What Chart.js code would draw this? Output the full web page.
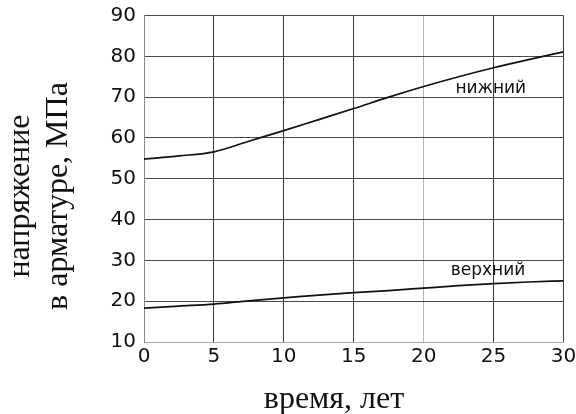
<!DOCTYPE html>
<html>
<head>
<meta charset="utf-8">
<script src="https://cdn.jsdelivr.net/npm/chart.js@4"></script>
<style>
  html, body { margin: 0; padding: 0; background: #fff; }
  #wrap { width: 576px; height: 414px; position: relative; }
</style>
</head>
<body>
<div id="wrap"><canvas id="stress-chart"></canvas></div>
<script>
// years and stress values
var years = [0, 2.5, 5, 7.5, 10, 12.5, 15, 17.5, 20, 22.5, 25, 27.5, 30];
var lowerBar = [54.8, 55.6, 56.6, 59.2, 61.8, 64.5, 67.2, 70.0, 72.6, 75.0, 77.2, 79.2, 81.1];
var upperBar = [18.3, 18.8, 19.3, 20.1, 20.8, 21.5, 22.1, 22.6, 23.2, 23.8, 24.3, 24.7, 25.0];
var xTicks = [0, 5, 10, 15, 20, 25, 30];
var yTicks = [10, 20, 30, 40, 50, 60, 70, 80, 90];
var seriesNames = ['нижний', 'верхний'];
var labelPos = [[24.8, 72.2], [24.6, 27.6]];
var xTitle = 'время, лет';
var yTitle = ['напряжение', 'в арматуре, МПа'];

function toPoints(xs, ys) {
	return xs.map(function (x, i) { return { x: x, y: ys[i] }; });
}

var textPlugin = {
	id: 'textPlugin',
	afterDraw: function (chart) {
		var ctx = chart.ctx;
		var xs = chart.scales.x, ys = chart.scales.y;
		ctx.save();
		ctx.fillStyle = '#111';
		// series names inside the plot
		ctx.font = '17px "DejaVu Sans"';
		ctx.textAlign = 'center';
		ctx.textBaseline = 'middle';
		labelPos.forEach(function (p, i) {
			ctx.fillText(seriesNames[i], xs.getPixelForValue(p[0]), ys.getPixelForValue(p[1]));
		});
		// axis titles
		ctx.font = '32px "Liberation Serif"';
		ctx.textBaseline = 'alphabetic';
		ctx.fillText(xTitle, 334, 408);
		ctx.translate(0, 196);
		ctx.rotate(-Math.PI / 2);
		ctx.fillText(yTitle[0], 0, 29);
		ctx.fillText(yTitle[1], 0, 67);
		ctx.restore();
	}
};

var ctx = document.getElementById('stress-chart').getContext('2d');
var myChart = new Chart(ctx, {
	type: 'line',
	data: {
		datasets: [
			{
				label: seriesNames[0],
				data: toPoints(years, lowerBar),
				borderColor: '#111',
				borderWidth: 1.7,
				pointRadius: 0,
				cubicInterpolationMode: 'monotone',
				fill: false
			},
			{
				label: seriesNames[1],
				data: toPoints(years, upperBar),
				borderColor: '#111',
				borderWidth: 1.7,
				pointRadius: 0,
				cubicInterpolationMode: 'monotone',
				fill: false
			}
		]
	},
	options: {
		responsive: true,
		maintainAspectRatio: false,
		animation: false,
		layout: {
			autoPadding: false,
			padding: { top: 15.5, right: 12.5, left: 0, bottom: 0 }
		},
		plugins: {
			legend: { display: false },
			tooltip: { enabled: false }
		},
		scales: {
			x: {
				type: 'linear',
				min: 0,
				max: 30,
				afterBuildTicks: function (scale) {
					scale.ticks = xTicks.map(function (v) { return { value: v }; });
				},
				afterFit: function (scale) {
					scale.height = 72;
					// let the "30" label run off the edge, as in the original
					scale.paddingLeft = 0;
					scale.paddingRight = 0;
				},
				ticks: {
					color: '#111',
					font: { family: 'DejaVu Sans', size: 20 },
					padding: 3,
					maxRotation: 0
				},
				grid: {
					drawTicks: false,
					color: function (c) { return c.tick && c.tick.value === 20 ? '#b4b4b4' : '#3a3a3a'; },
					lineWidth: 1
				},
				border: { color: '#a8a8a8', width: 1 }
			},
			y: {
				min: 10,
				max: 90,
				afterBuildTicks: function (scale) {
					scale.ticks = yTicks.map(function (v) { return { value: v }; });
				},
				afterFit: function (scale) {
					scale.width = 144;
					scale.paddingTop = 0;
					scale.paddingBottom = 0;
				},
				ticks: {
					color: '#111',
					font: { family: 'DejaVu Sans', size: 20 },
					padding: 8
				},
				grid: {
					drawTicks: false,
					color: '#4a4a4a',
					lineWidth: 1
				},
				border: { color: '#8a8a8a', width: 1 }
			}
		}
	},
	plugins: [textPlugin]
});
</script>
</body>
</html>
